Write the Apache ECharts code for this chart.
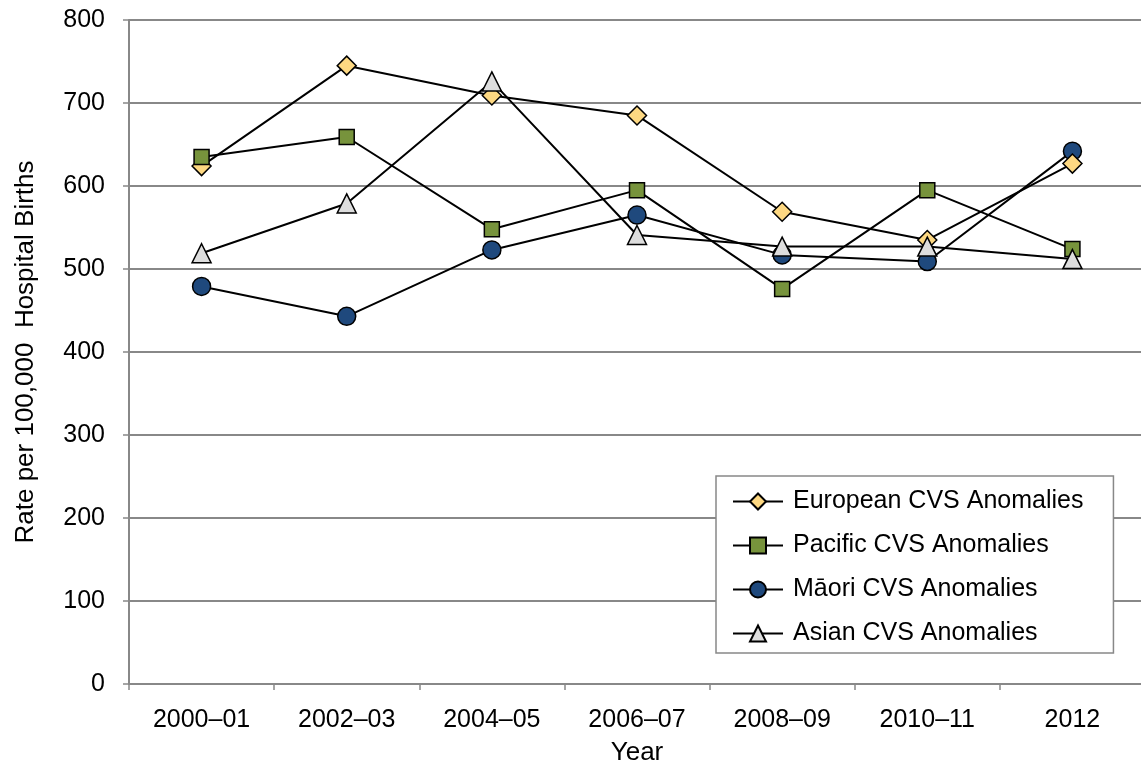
<!DOCTYPE html>
<html>
<head>
<meta charset="utf-8">
<script src="https://cdn.jsdelivr.net/npm/echarts@6/dist/echarts.min.js"></script>
<style>html,body{margin:0;padding:0;background:#fff;}#c{width:1141px;height:767px;}</style>
</head>
<body>
<div id="c"></div>
<script>
const categories = ['2000–01', '2002–03', '2004–05', '2006–07', '2008–09', '2010–11', '2012'];
const european = [624, 745, 709, 685, 569, 535, 627];
const pacific  = [635, 659, 548, 595, 476, 595, 524];
const maori    = [479, 443, 523, 565, 517, 509, 642];
const asian    = [519, 579, 726, 541, 527, 527, 512];
const yTicks = {min: 0, max: 800, interval: 100};

const FONT = 'Liberation Sans, Arial, sans-serif';
const chart = echarts.init(document.getElementById('c'), null, {renderer: 'canvas'});

function mk(name, data, symbol, size, color, z) {
  return {
    name: name, type: 'line', data: data, symbol: symbol, symbolSize: size,
    z: z,
    lineStyle: {color: '#000', width: 2},
    itemStyle: {color: color, borderColor: '#000', borderWidth: 1.5},
    emphasis: {disabled: true},
    animation: false
  };
}

chart.setOption({
  animation: false,
  backgroundColor: '#fff',
  grid: {left: 129, right: -4, top: 20, bottom: 83, containLabel: false, outerBoundsMode: 'none'},
  xAxis: {
    type: 'category', data: categories, boundaryGap: true,
    name: 'Year', nameLocation: 'middle', nameGap: 56,
    nameTextStyle: {fontFamily: FONT, fontSize: 26, color: '#000'},
    axisLine: {lineStyle: {color: '#888', width: 2}},
    axisTick: {show: true, alignWithLabel: false, length: 6, lineStyle: {color: '#888', width: 1.5}},
    axisLabel: {fontFamily: FONT, fontSize: 25, color: '#000', margin: 24, interval: 0},
    splitLine: {show: false}
  },
  yAxis: {
    type: 'value', min: yTicks.min, max: yTicks.max, interval: yTicks.interval,
    name: 'Rate per 100,000  Hospital Births', nameLocation: 'middle', nameGap: 90,
    nameTextStyle: {fontFamily: FONT, fontSize: 26, color: '#000'},
    axisLine: {show: true, lineStyle: {color: '#888', width: 2}},
    axisTick: {show: true, length: 6, lineStyle: {color: '#888', width: 1.5}},
    axisLabel: {fontFamily: FONT, fontSize: 25, color: '#000', margin: 24},
    splitLine: {show: true, lineStyle: {color: '#888', width: 2}}
  },
  legend: {
    data: ['European CVS Anomalies', 'Pacific CVS Anomalies', 'Māori CVS Anomalies', 'Asian CVS Anomalies'],
    orient: 'vertical', left: 716, top: 476,
    padding: [13, 30, 7, 16],
    itemWidth: 50, itemHeight: 20, itemGap: 19,
    borderColor: '#888', borderWidth: 1.5,
    backgroundColor: '#fff',
    textStyle: {fontFamily: FONT, fontSize: 25, color: '#000', padding: [0, 0, 0, 5]},
    selectedMode: false
  },
  series: [
    mk('Māori CVS Anomalies', maori, 'circle', 18, '#1F497D', 2),
    mk('European CVS Anomalies', european, 'diamond', 19, '#FDD882', 3),
    mk('Pacific CVS Anomalies', pacific, 'rect', 15, '#77933C', 4),
    mk('Asian CVS Anomalies', asian, 'triangle', 19, '#DDDDDD', 5)
  ]
});
</script>
</body>
</html>
